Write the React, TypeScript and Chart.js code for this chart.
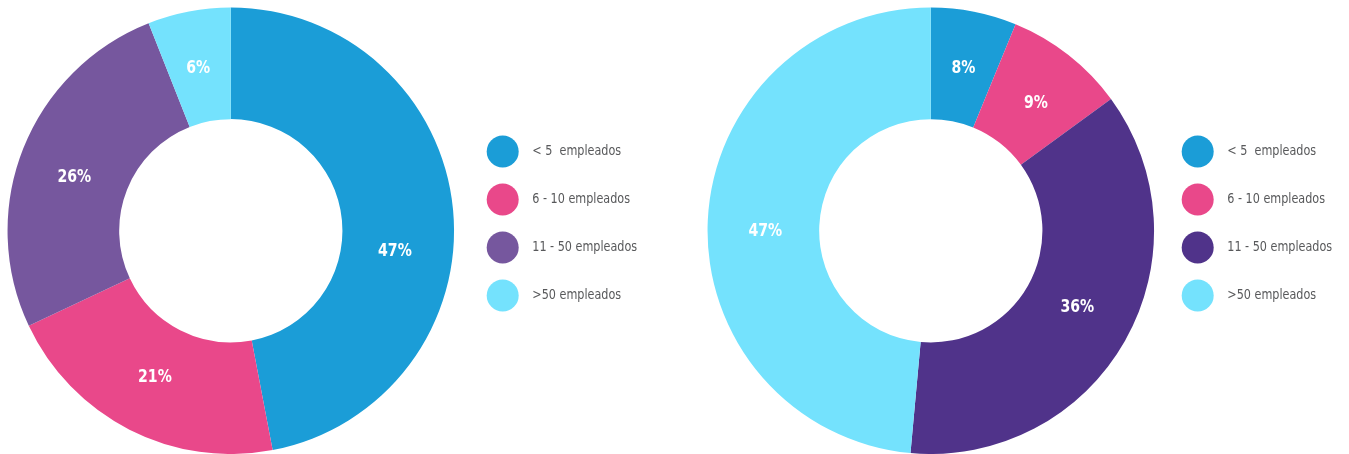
import React, { useEffect, useRef } from "react";
import { Chart, registerables } from "chart.js";

Chart.register(...registerables);

const categories = ["< 5  empleados", "6 - 10 empleados", "11 - 50 empleados", ">50 empleados"];

const leftValues = [47, 21, 26, 6];
const leftLabels = ["47%", "21%", "26%", "6%"];
const leftColors = ["#1B9DD7", "#E9488A", "#76579E", "#74E2FD"];

const rightValues = [6.2, 8.75, 36.5, 48.55];
const rightLabels = ["8%", "9%", "36%", "47%"];
const rightColors = ["#1B9DD7", "#E9488A", "#50338A", "#74E2FD"];

const LABEL_FONT = 'bold 18px "DejaVu Sans Condensed", sans-serif';
const LEGEND_FONT = '14px "DejaVu Sans Condensed", sans-serif';

type DonutProps = {
  values: number[];
  labels: string[];
  colors: string[];
  width: number;
  legendX: number;
  textX: number;
  angleShift: number[];
};

function Donut({ values, labels, colors, width, legendX, textX, angleShift }: DonutProps) {
  const ref = useRef<HTMLCanvasElement | null>(null);

  useEffect(() => {
    if (!ref.current) return;
    const overlay = {
      id: "overlay",
      afterDatasetsDraw(chart: any) {
        const ctx = chart.ctx;
        const meta = chart.getDatasetMeta(0);
        ctx.save();
        ctx.font = LABEL_FONT;
        ctx.fillStyle = "#ffffff";
        ctx.textAlign = "center";
        ctx.textBaseline = "middle";
        meta.data.forEach((arc: any, i: number) => {
          const { x, y, startAngle, endAngle, innerRadius, outerRadius } = arc.getProps(
            ["x", "y", "startAngle", "endAngle", "innerRadius", "outerRadius"],
            true
          );
          const a = (startAngle + endAngle) / 2 + ((angleShift[i] || 0) * Math.PI) / 180;
          const r = (innerRadius + outerRadius) / 2 - 2;
          const px = x + Math.cos(a) * r;
          const py = y + Math.sin(a) * r;
          ctx.save();
          ctx.translate(px, py);
          ctx.scale(0.87, 1);
          ctx.fillText(labels[i], 0, 0);
          ctx.restore();
        });
        // legend
        ctx.font = LEGEND_FONT;
        ctx.textAlign = "left";
        categories.forEach((c, i) => {
          const y = 151.5 + i * 48;
          ctx.beginPath();
          ctx.fillStyle = colors[i];
          ctx.arc(legendX, y, 16, 0, Math.PI * 2);
          ctx.fill();
          ctx.fillStyle = "#58595B";
          ctx.save();
          ctx.translate(textX, y);
          ctx.scale(0.89, 1);
          ctx.fillText(c, 0, 0);
          ctx.restore();
        });
        ctx.restore();
      },
    };
    const chart = new Chart(ref.current, {
      type: "doughnut",
      data: {
        labels: categories,
        datasets: [
          {
            data: values,
            backgroundColor: colors,
            borderWidth: 0,
          },
        ],
      },
      options: {
        responsive: false,
        animation: false,
        cutout: "50%",
        layout: {
          padding: { left: 7.3, top: 7.5, right: width - 454.3, bottom: 0 },
        },
        plugins: {
          legend: { display: false },
          tooltip: { enabled: false },
        },
      },
      plugins: [overlay],
    });
    return () => chart.destroy();
  }, []);

  return <canvas ref={ref} width={width} height={454} style={{ display: "block", width, height: 454 }} />;
}

export default function App() {
  return (
    <div
      style={{
        position: "fixed",
        left: 0,
        top: 0,
        width: 1349,
        height: 454,
        overflow: "hidden",
        background: "#ffffff",
        display: "flex",
      }}
    >
      <Donut
        values={leftValues}
        labels={leftLabels}
        colors={leftColors}
        width={700}
        legendX={502.7}
        textX={532.3}
        angleShift={[12.7, 0.3, -2.6, -0.6]}
      />
      <Donut
        values={rightValues}
        labels={rightLabels}
        colors={rightColors}
        width={649}
        legendX={497.7}
        textX={527.3}
        angleShift={[0.2, 1.4, -1.8, -2.8]}
      />
    </div>
  );
}
